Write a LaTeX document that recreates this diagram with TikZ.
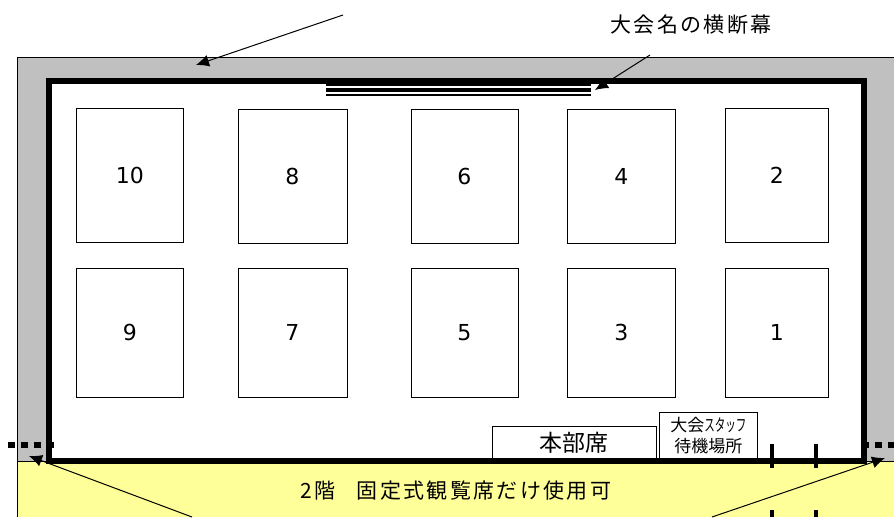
\documentclass[tikz,border=0pt]{standalone}
\usepackage{fontspec}
\setmainfont{Noto Sans CJK JP}
\newfontfamily\spacedcjk[LetterSpace=11]{Noto Sans CJK JP}
\newfontfamily\courtdigit{DejaVu Sans}
\definecolor{hallgray}{HTML}{C0C0C0}
\definecolor{seatyellow}{HTML}{FFFF99}
\usetikzlibrary{arrows.meta}
\tikzset{
  x=1pt,y=-1pt,
  court/.style={draw=black,line width=0.9pt,fill=white,inner sep=0pt,text=black,font=\fontsize{22}{22}\courtdigit},
  boxlabel/.style={draw=black,line width=0.9pt,fill=white,inner sep=0pt,align=center},
  lead/.style={draw=black,line width=1pt,-{Latex[length=13pt,width=12pt]}},
  doorh/.style={line width=6pt,dash pattern=on 6.5pt off 6.5pt},
  doorv/.style={line width=4pt},
}
\newcommand{\court}[6]{\node[court,minimum width=#3pt,minimum height=#4pt,anchor=north west] (#5) at (#1,#2) {#6};}
\begin{document}
\begin{tikzpicture}
\useasboundingbox (0,0) rectangle (894,517);
\fill[white] (0,0) rectangle (894,517);
% hall
\draw[fill=hallgray,draw=black,line width=1pt] (17.5,517) -- (17.5,57.5) -- (894,57.5) -- (894,517);
\draw[fill=seatyellow,draw=black,line width=1pt] (17.5,517) -- (17.5,461) -- (894,461) -- (894,517);
\draw[fill=white,draw=black,line width=6pt] (48.5,80.5) rectangle (864,461);
% banner
\draw[line width=2.4pt] (326,84.5) -- (591,84.5);
\draw[line width=4pt] (326,90) -- (591,90);
\draw[line width=2pt] (326,95) -- (591,95);
% courts
\court{76}{108}{107}{134}{c10}{10}
\court{237.5}{109}{109}{134}{c8}{8}
\court{410.5}{109}{107}{134}{c6}{6}
\court{567}{109}{108}{134}{c4}{4}
\court{725}{108}{103}{134}{c2}{2}
\court{76}{268}{107}{129}{c9}{9}
\court{237.5}{268}{109}{129}{c7}{7}
\court{410.5}{268}{107}{129}{c5}{5}
\court{567}{268}{108}{129}{c3}{3}
\court{725}{268}{103}{129}{c1}{1}
% desks
\node[boxlabel,minimum width=164pt,minimum height=32pt,anchor=north west,font=\fontsize{23}{23}\selectfont] (honbu) at (491.5,426) {本部席};
\node[boxlabel,minimum width=98pt,minimum height=46pt,anchor=north west,font=\fontsize{17}{21}\selectfont] (staff) at (659,412) {大会\scalebox{0.62}[1]{スタッフ}\\待機場所};
% doors
\draw[doorh] (8,444.5) -- (54,444.5);
\draw[doorh] (862,444.5) -- (894,444.5);
\draw[doorv] (771.5,444) -- (771.5,468);
\draw[doorv] (815.5,444) -- (815.5,468);
\draw[doorv] (771.5,510) -- (771.5,517);
\draw[doorv] (815.5,510) -- (815.5,517);
% labels
\node[font=\fontsize{21}{21}\spacedcjk,inner sep=0pt] (banner) at (691,25) {大会名の横断幕};
\node[font=\fontsize{21}{21}\spacedcjk,inner sep=0pt] (seats) at (456,491) {2階\hspace{1em}固定式観覧席だけ使用可};
% leaders
\coordinate (a1) at (343,15);
\coordinate (a1e) at (196,65);
\coordinate (a2) at (650,55);
\coordinate (a2e) at (595,90);
\coordinate (a3) at (192,517);
\coordinate (a3e) at (29,456);
\coordinate (a4) at (712,517);
\coordinate (a4e) at (885,458);
\draw[lead] (a1) -- (a1e);
\draw[lead] (a2) -- (a2e);
\draw[lead] (a3) -- (a3e);
\draw[lead] (a4) -- (a4e);
\end{tikzpicture}
\end{document}
